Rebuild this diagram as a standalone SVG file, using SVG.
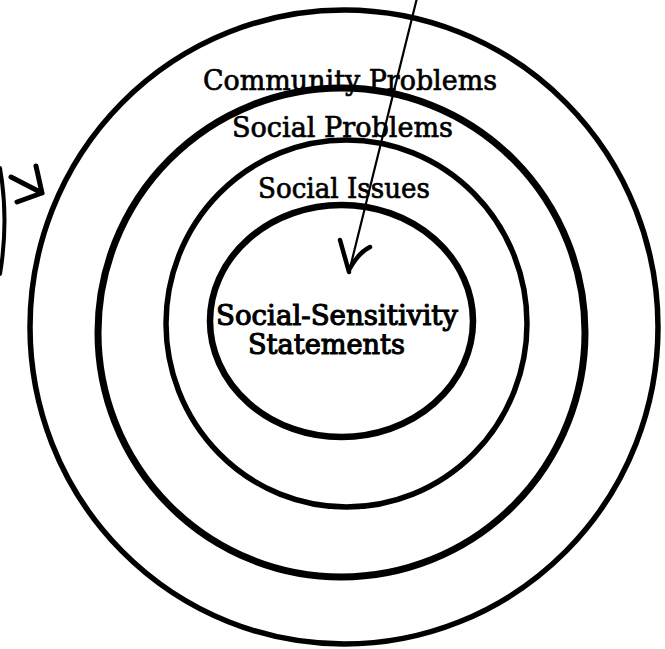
<svg xmlns="http://www.w3.org/2000/svg" width="665" height="649" viewBox="0 0 665 649">
  <style>
    .ring { fill: none; stroke: #000; }
    .label { font-family: "DejaVu Serif", "Liberation Serif", serif; font-size: 28px; fill: #000; stroke: #000; stroke-width: 0.7px; }
    .core { font-size: 27px; stroke-width: 1.1px; }
    .ink { fill: none; stroke: #000; stroke-linecap: round; stroke-linejoin: round; }
  </style>
  <rect width="665" height="649" fill="#fff"/>

  <!-- concentric rings, outermost first -->
  <g id="community-problems">
    <ellipse class="ring" cx="344" cy="327" rx="314" ry="317" stroke-width="5.5"/>
    <text class="label" x="203" y="90" textLength="294" lengthAdjust="spacingAndGlyphs">Community Problems</text>
  </g>
  <g id="social-problems">
    <ellipse class="ring" cx="341.5" cy="332.5" rx="243.5" ry="244.5" stroke-width="7"/>
    <text class="label" x="232" y="137" textLength="221" lengthAdjust="spacingAndGlyphs">Social Problems</text>
  </g>
  <g id="social-issues">
    <ellipse class="ring" cx="346.5" cy="323.5" rx="180.5" ry="183.5" stroke-width="5.5"/>
    <text class="label" x="258" y="198" textLength="172" lengthAdjust="spacingAndGlyphs">Social Issues</text>
  </g>
  <g id="social-sensitivity-statements">
    <ellipse class="ring" cx="341.5" cy="321" rx="131.5" ry="116" stroke-width="6.5"/>
    <text class="label core" x="216" y="325" textLength="242" lengthAdjust="spacingAndGlyphs">Social-Sensitivity</text>
    <text class="label core" x="248" y="354" textLength="157" lengthAdjust="spacingAndGlyphs">Statements</text>
  </g>

  <!-- hand-drawn arrows -->
  <g id="connectors">
    <path class="ink" d="M417,-2 L349,272" stroke-width="2.2"/>
    <path class="ink" d="M340,240 Q345,258 349,272 M370,247 Q358,253 349,270" stroke-width="4.5"/>
    <path class="ink" d="M0,168 Q9,220 0,274" stroke-width="4"/>
    <path class="ink" d="M36,166 L42,193 M11,177 L42,193 M17,202 L42,193" stroke-width="5"/>
  </g>
</svg>
